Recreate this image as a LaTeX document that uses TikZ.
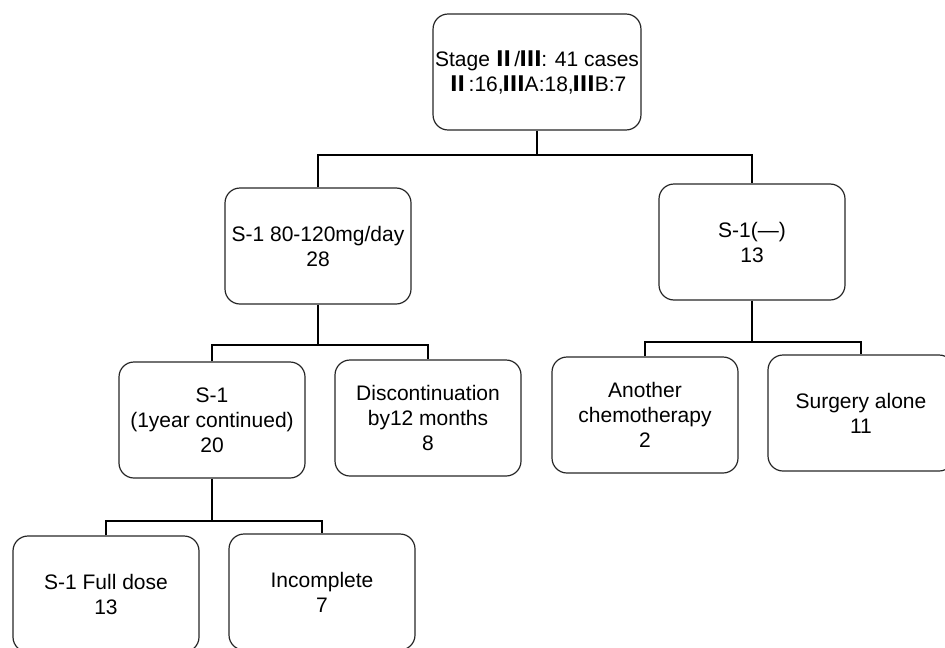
\documentclass[tikz,border=0pt]{standalone}
\usepackage{fontspec}
\setmainfont{Liberation Sans}
\newfontfamily\cjk{Noto Sans CJK JP}
\newcommand{\rII}{{\cjk\bfseries Ⅱ}}
\newcommand{\rIII}{{\cjk\bfseries Ⅲ}}

\begin{document}
\begin{tikzpicture}[x=0.5pt,y=-0.5pt,
    box/.style={draw=black!85, line width=0.6pt, rounded corners=7.5pt,
      minimum width=93pt, minimum height=58pt, inner sep=1pt,
      align=center, font=\fontsize{10.5}{12.5}\selectfont},
    conn/.style={line width=1.2pt}]
      \useasboundingbox (0,0) rectangle (945,647);
      \clip (0,0) rectangle (945,647);
      % boxes
      \node[box, minimum width=96pt] (stage) at (537,72)
        {Stage\,\rII/\rIII: 41 cases\\\rII:16,\rIII A:18,\rIII B:7};
      \node[box] (s1) at (318,246) {S-1 80-120mg/day\\28};
      \node[box] (nos1) at (752,242) {S-1(—)\\13};
      \node[box] (cont) at (212,420) {S-1\\(1year continued)\\20};
      \node[box] (disc) at (428,418) {Discontinuation\\by12 months\\8};
      \node[box] (chemo) at (645,415) {Another\\chemotherapy\\2};
      \node[box] (surg) at (861,413) {Surgery alone\\11};
      \node[box] (full) at (106,594) {S-1 Full dose\\13};
      \node[box] (incompl) at (322,592) {Incomplete\\7};
      % junctions
      \coordinate (j0) at (537,155);
      \coordinate (j1) at (318,345);
      \coordinate (j2) at (752,342);
      \coordinate (j3) at (212,521);
      \foreach \p/\j/\a/\b in {stage/j0/s1/nos1, s1/j1/cont/disc,
                               nos1/j2/chemo/surg, cont/j3/full/incompl} {
        \draw[conn] (\p.south) -- (\j);
        \draw[conn] (\a.north) |- (\j) -| (\b.north);
      }
    \end{tikzpicture}
\end{document}
